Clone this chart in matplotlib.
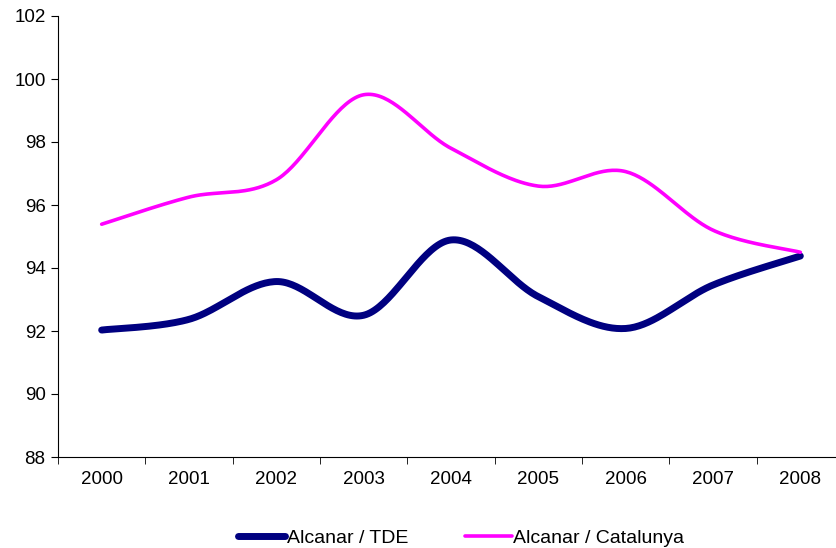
import matplotlib
matplotlib.use("Agg")
import matplotlib.pyplot as plt
import numpy as np

years = ["2000", "2001", "2002", "2003", "2004", "2005", "2006", "2007", "2008"]
tde = [92.03, 92.37, 93.57, 92.5, 94.89, 93.09, 92.08, 93.46, 94.38]
catalunya = [95.39, 96.25, 96.8, 99.5, 97.8, 96.6, 97.06, 95.2, 94.5]

plt.rcParams['font.family'] = ['Liberation Sans', 'DejaVu Sans']


# suavitzat tipus Excel (Bezier amb punts de control Catmull-Rom)
def smooth(xs, ys, n=40):
    xs = np.asarray(xs, float)
    ys = np.asarray(ys, float)
    px = np.concatenate([[xs[0]], xs, [xs[-1]]])
    py = np.concatenate([[ys[0]], ys, [ys[-1]]])
    outx, outy = [], []
    t = np.linspace(0, 1, n)
    for i in range(1, len(px) - 2):
        p0 = np.array([px[i], py[i]])
        p3 = np.array([px[i + 1], py[i + 1]])
        c1 = p0 + (np.array([px[i + 1], py[i + 1]]) - np.array([px[i - 1], py[i - 1]])) / 6
        c2 = p3 - (np.array([px[i + 2], py[i + 2]]) - np.array([px[i], py[i]])) / 6
        b = ((1 - t) ** 3)[:, None] * p0 + (3 * (1 - t) ** 2 * t)[:, None] * c1 \
            + (3 * (1 - t) * t ** 2)[:, None] * c2 + (t ** 3)[:, None] * p3
        outx.extend(b[:, 0])
        outy.extend(b[:, 1])
    return outx, outy


fig = plt.figure(figsize=(8.36, 5.48), dpi=100)
ax = fig.add_axes([58 / 836, 1 - 457 / 548, 786 / 836, 441 / 548])

x = np.arange(len(years))
sx, sy = smooth(x, tde)
ax.plot(sx, sy, color='#000080', lw=5, solid_capstyle='round', label='Alcanar / TDE')
sx, sy = smooth(x, catalunya)
ax.plot(sx, sy, color='#FF00FF', lw=2.6, solid_capstyle='round', label='Alcanar / Catalunya')

ax.set_xlim(-0.5, len(years) - 0.5)
ax.set_ylim(88, 102)
ax.set_yticks(range(88, 103, 2))
ax.set_xticks(x)
ax.set_xticklabels(years)
ax.set_xticks(np.arange(-0.5, len(years), 1), minor=True)
ax.tick_params(axis='x', which='major', length=0, pad=10, labelsize=13.5)
ax.tick_params(axis='x', which='minor', length=5, direction='out')
ax.tick_params(axis='y', length=5, direction='out', labelsize=13.5, pad=4)

ax.spines['top'].set_visible(False)
ax.spines['right'].set_visible(False)

fig.legend(loc='center', bbox_to_anchor=(0.552, 10 / 548), ncol=2, frameon=False,
           fontsize=14, handlelength=2.4, handletextpad=0.1, columnspacing=2.9)

plt.savefig('out.png', dpi=100)
